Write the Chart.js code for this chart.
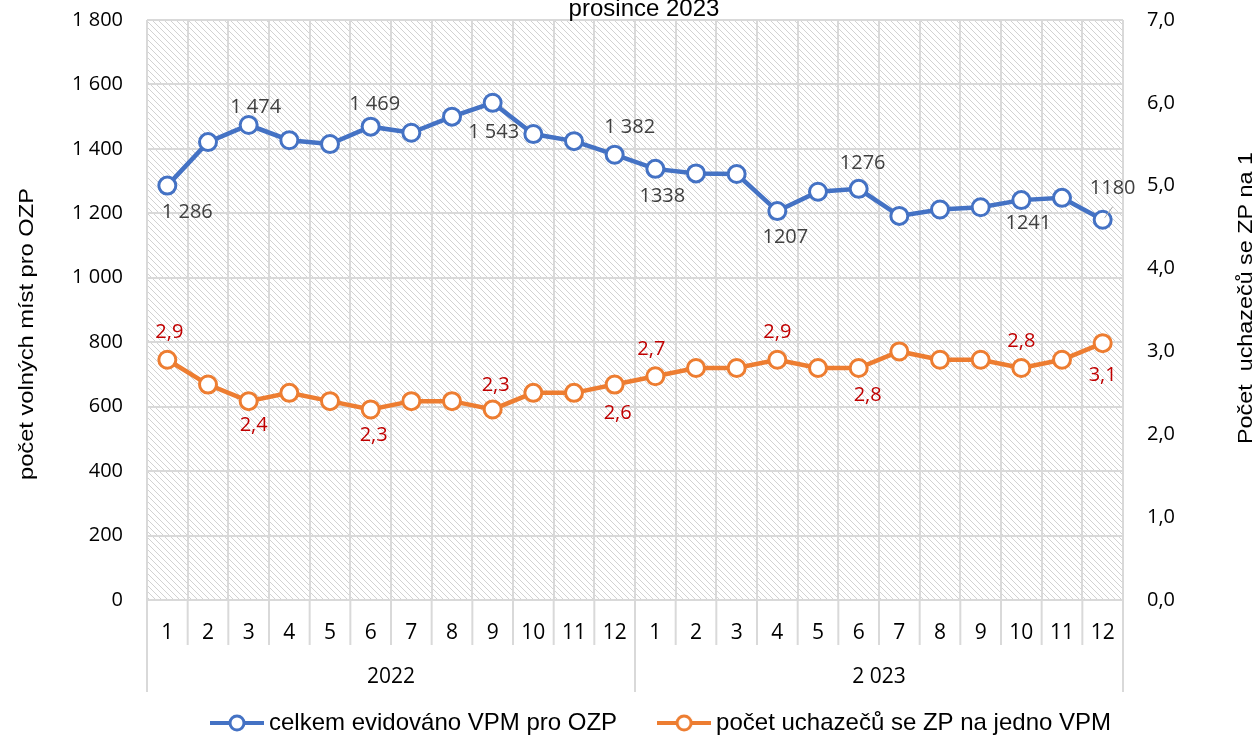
<!DOCTYPE html>
<html>
<head>
<meta charset="utf-8">
<script src="https://cdn.jsdelivr.net/npm/chart.js@4.4.1/dist/chart.umd.min.js"></script>
<style>
  html, body { margin: 0; padding: 0; background: #fff; }
</style>
</head>
<body>
<canvas id="vpmChart" width="1258" height="740"></canvas>
<script>
// months of the two years, year captions under them
const months = ['1','2','3','4','5','6','7','8','9','10','11','12',
                '1','2','3','4','5','6','7','8','9','10','11','12'];
const years = ['2022', '2 023'];

// celkem evidováno VPM pro OZP
const vpmTotal = [1286, 1421, 1474, 1427, 1415, 1469, 1450, 1500, 1543, 1446, 1424, 1382,
                  1338, 1324, 1322, 1207, 1267, 1276, 1192, 1212, 1219, 1241, 1248, 1180];
// počet uchazečů se ZP na jedno VPM
const perVpm = [2.9, 2.6, 2.4, 2.5, 2.4, 2.3, 2.4, 2.4, 2.3, 2.5, 2.5, 2.6,
                2.7, 2.8, 2.8, 2.9, 2.8, 2.8, 3.0, 2.9, 2.9, 2.8, 2.9, 3.1];

// data labels shown in the picture (null = no label)
const vpmLabels = ['1 286', null, '1 474', null, null, '1 469', null, null, '1 543', null, null, '1 382',
                   '1338', null, null, '1207', null, '1276', null, null, null, '1241', null, '1180'];
const perVpmLabels = ['2,9', null, '2,4', null, null, '2,3', null, null, '2,3', null, null, '2,6',
                      '2,7', null, null, '2,9', null, '2,8', null, null, null, '2,8', null, '3,1'];

const leftAxis = { min: 0, max: 1800, step: 200 };
const rightAxis = { min: 0, max: 7, step: 1 };

const title = 'prosince 2023';
const leftTitle = 'počet volných míst pro OZP';
const rightTitle = 'Počet  uchazečů se ZP na 1';

// label placement relative to the point [dx, dy]
const vpmLabelOffset = {0:[20,27], 2:[7,-18], 5:[4,-22], 8:[1,29], 11:[15,-27], 12:[7,27],
                        15:[8,26], 17:[4,-26], 21:[7,23], 23:[10,-31]};
const perVpmLabelOffset = {0:[2,-27], 2:[5,24], 5:[3,26], 8:[3,-24], 11:[3,29], 12:[-4,-27],
                           15:[0,-27], 17:[9,27], 21:[0,-27], 23:[0,32]};

const BLUE = '#4472C4';
const ORANGE = '#ED7D31';
const GRID = '#d9d9d9';
const NUM_FONT = '"Open Sans", "Noto Sans", sans-serif';
const TXT_FONT = '"Liberation Sans", Arial, sans-serif';

function thousands(v) {
    return String(v).replace(/\B(?=(\d{3})+(?!\d))/g, ' ');
}

// legend marker: line with an open circle
function legendMarker(color) {
    const c = document.createElement('canvas');
    c.width = 54; c.height = 20;
    const g = c.getContext('2d');
    g.strokeStyle = color;
    g.lineWidth = 4;
    g.beginPath(); g.moveTo(0, 10); g.lineTo(54, 10); g.stroke();
    g.fillStyle = '#fff';
    g.lineWidth = 3;
    g.beginPath(); g.arc(27, 10, 7, 0, Math.PI * 2); g.fill(); g.stroke();
    return c;
}

// diagonal hatch tile for the plot area
function hatchTile() {
    const c = document.createElement('canvas');
    c.width = 6; c.height = 6;
    const g = c.getContext('2d');
    g.fillStyle = '#fff';
    g.fillRect(0, 0, 6, 6);
    g.strokeStyle = '#d2d2d2';
    g.lineWidth = 1;
    g.beginPath();
    g.moveTo(-1, -1); g.lineTo(7, 7);
    g.moveTo(-1, 5); g.lineTo(1, 7);
    g.moveTo(5, -1); g.lineTo(7, 1);
    g.stroke();
    return c;
}

const hatchPlugin = {
    id: 'hatch',
    beforeDraw(chart) {
        const { ctx, chartArea: a } = chart;
        ctx.save();
        ctx.fillStyle = ctx.createPattern(hatchTile(), 'repeat');
        ctx.fillRect(a.left, a.top, a.right - a.left, a.bottom - a.top);
        ctx.restore();
    }
};

const pointLabels = {
    id: 'pointLabels',
    afterDatasetsDraw(chart) {
        const ctx = chart.ctx;
        const sets = [
            { labels: vpmLabels, offs: vpmLabelOffset, color: '#404040' },
            { labels: perVpmLabels, offs: perVpmLabelOffset, color: '#C00000' }
        ];
        ctx.save();
        ctx.font = '20px ' + NUM_FONT;
        ctx.textAlign = 'center';
        ctx.textBaseline = 'middle';
        sets.forEach((s, di) => {
            const pts = chart.getDatasetMeta(di).data;
            s.labels.forEach((txt, i) => {
                if (!txt) return;
                const [dx, dy] = s.offs[i] || [0, -26];
                ctx.fillStyle = s.color;
                ctx.fillText(txt, pts[i].x + dx, pts[i].y + dy);
            });
        });
        // leader line of the last blue label
        const last = chart.getDatasetMeta(0).data[vpmLabels.length - 1];
        ctx.strokeStyle = '#a6a6a6';
        ctx.lineWidth = 1;
        ctx.beginPath();
        ctx.moveTo(last.x + 2, last.y - 2);
        ctx.lineTo(last.x + 10, last.y - 13);
        ctx.stroke();
        ctx.restore();
    }
};

const decorations = {
    id: 'decorations',
    afterDraw(chart) {
        const { ctx, chartArea: a } = chart;
        const x = chart.scales.x;
        const half = (x.getPixelForValue(1) - x.getPixelForValue(0)) / 2;
        const perYear = months.length / years.length;
        ctx.save();

        // category separators below the plot
        ctx.strokeStyle = GRID;
        ctx.lineWidth = 2;
        for (let i = 0; i <= months.length; i++) {
            const px = i < months.length ? x.getPixelForValue(i) - half : x.getPixelForValue(i - 1) + half;
            const yearEdge = i % perYear === 0;
            ctx.beginPath();
            ctx.moveTo(px, a.bottom);
            ctx.lineTo(px, a.bottom + (yearEdge ? 92 : 45));
            ctx.stroke();
        }

        // year captions
        ctx.fillStyle = '#000';
        ctx.font = '21px ' + NUM_FONT;
        ctx.textAlign = 'center';
        ctx.textBaseline = 'middle';
        years.forEach((y, k) => {
            const p0 = x.getPixelForValue(k * perYear);
            const p1 = x.getPixelForValue(k * perYear + perYear - 1);
            ctx.fillText(y, (p0 + p1) / 2, a.bottom + 77);
        });

        // chart title, partly cut by the top edge
        ctx.font = '24px ' + TXT_FONT;
        ctx.textBaseline = 'alphabetic';
        ctx.fillText(title, (a.left + a.right) / 2 + 9, 16);

        // axis titles
        const vertical = (text, cx, cy, len) => {
            ctx.save();
            ctx.font = '20px ' + TXT_FONT;
            ctx.textBaseline = 'middle';
            ctx.textAlign = 'center';
            const k = len / ctx.measureText(text).width;
            ctx.translate(cx, cy);
            ctx.rotate(-Math.PI / 2);
            ctx.scale(k, 1);
            ctx.fillText(text, 0, 0);
            ctx.restore();
        };
        vertical(leftTitle, 27, 334, 292);
        vertical(rightTitle, 1246, 298, 292);
        ctx.restore();
    }
};

// keep tick padding from pushing the plot area down
const noVertPad = s => { s.paddingTop = 0; s.paddingBottom = 0; };

const ctx = document.getElementById('vpmChart').getContext('2d');
const vpmChart = new Chart(ctx, {
    type: 'line',
    data: {
        labels: months,
        datasets: [{
            label: 'celkem evidováno VPM pro OZP',
            data: vpmTotal,
            yAxisID: 'y',
            borderColor: BLUE,
            backgroundColor: '#fff',
            borderWidth: 4.5,
            pointRadius: 8.5,
            pointBorderWidth: 3,
            pointBackgroundColor: '#fff',
            pointBorderColor: BLUE
        }, {
            label: 'počet uchazečů se ZP na jedno VPM',
            data: perVpm,
            yAxisID: 'y1',
            borderColor: ORANGE,
            backgroundColor: '#fff',
            borderWidth: 4.5,
            pointRadius: 8.5,
            pointBorderWidth: 3,
            pointBackgroundColor: '#fff',
            pointBorderColor: ORANGE
        }]
    },
    options: {
        responsive: false,
        animation: false,
        layout: { padding: { left: 70, right: 0, top: 20, bottom: -5 } },
        scales: {
            x: {
                offset: true,
                grid: { offset: true, color: GRID, lineWidth: 2, drawTicks: false },
                border: { display: false },
                ticks: { color: '#000', font: { family: NUM_FONT, size: 21 }, padding: 20,
                         autoSkip: false, maxRotation: 0 },
                afterFit: s => { s.height = 64; }
            },
            y: {
                position: 'left',
                min: leftAxis.min, max: leftAxis.max,
                grid: { color: GRID, lineWidth: 2, drawTicks: false },
                border: { display: false },
                ticks: { stepSize: leftAxis.step, color: '#000', padding: 24,
                         font: { family: NUM_FONT, size: 20 }, callback: v => thousands(v) },
                afterFit: s => { s.width = 77; noVertPad(s); }
            },
            y1: {
                position: 'right',
                min: rightAxis.min, max: rightAxis.max,
                grid: { drawOnChartArea: false, drawTicks: false },
                border: { display: false },
                ticks: { stepSize: rightAxis.step, color: '#000', padding: 24,
                         font: { family: NUM_FONT, size: 20 },
                         callback: v => v.toFixed(1).replace('.', ',') },
                afterFit: s => { s.width = 135; noVertPad(s); }
            }
        },
        plugins: {
            title: { display: false },
            tooltip: { enabled: false },
            legend: {
                position: 'bottom',
                labels: {
                    usePointStyle: true,
                    pointStyleWidth: 40,
                    padding: 47,
                    color: '#000',
                    font: { family: TXT_FONT, size: 24 },
                    generateLabels(chart) {
                        const items = Chart.defaults.plugins.legend.labels.generateLabels(chart);
                        items.forEach((it, i) => {
                            it.pointStyle = legendMarker(chart.data.datasets[i].borderColor);
                        });
                        return items;
                    }
                }
            }
        }
    },
    plugins: [hatchPlugin, pointLabels, decorations]
});
</script>
</body>
</html>
